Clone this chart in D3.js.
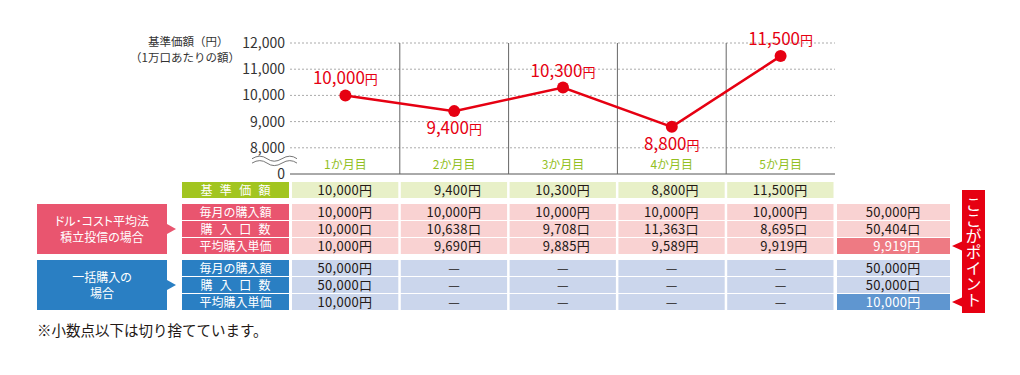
<!DOCTYPE html>
<html lang="ja">
<head>
  <meta charset="UTF-8">
  <title>ドル・コスト平均法</title>
  <script src="https://d3js.org/d3.v7.min.js"></script>
  <style>
    body { margin: 0; background: #fff; }
    svg { display: block; font-family: "Noto Sans CJK JP", sans-serif; }
  </style>
</head>
<body>

  <script>
    ((window, document) => {
      "use strict";


      /**
       * -----------------------------------------------------------------------
       *  Data
       * -----------------------------------------------------------------------
       */

      const months = ["1か月目", "2か月目", "3か月目", "4か月目", "5か月目"];
      const navValues = [10000, 9400, 10300, 8800, 11500];
      const yTicks = [0, 8000, 9000, 10000, 11000, 12000];

      const rowLabels = ["毎月の購入額", "購入口数", "平均購入単価"];
      const rowUnits = ["円", "口", "円"];

      const dcaAmount = [10000, 10000, 10000, 10000, 10000];
      const dcaUnits = [10000, 10638, 9708, 11363, 8695];
      const dcaAvgCost = [10000, 9690, 9885, 9589, 9919];
      const dcaTotals = [50000, 50404, 9919];

      const lumpAmount = [50000, null, null, null, null];
      const lumpUnits = [50000, null, null, null, null];
      const lumpAvgCost = [10000, null, null, null, null];
      const lumpTotals = [50000, 50000, 10000];


      /**
       * -----------------------------------------------------------------------
       *  Setup
       * -----------------------------------------------------------------------
       */

      const RED = "#e60012";
      const INK = "#231815";
      const fmt = d3.format(",");

      const svg = d3.select("body").append("svg")
        .attr("width", 1020).attr("height", 375);

      const x = d3.scaleBand().domain(months).range([291, 835]);
      const bw = x.bandwidth();
      const cx = m => x(m) + bw / 2;
      // broken axis: 0 sits just below 8,000
      const y = d3.scaleLinear().domain([0, 8000, 12000]).range([174, 147.8, 43]);


      /**
       * -----------------------------------------------------------------------
       *  Chart
       * -----------------------------------------------------------------------
       */

      svg.append("text")
        .attr("x", 148).attr("y", 46)
        .attr("font-size", 11.5).attr("fill", "#333")
        .text("基準価額（円）");
      svg.append("text")
        .attr("x", 130).attr("y", 62)
        .attr("font-size", 11.5).attr("fill", "#333")
        .text("（1万口あたりの額）");

      // grid
      svg.append("g").selectAll("line")
        .data(yTicks.filter(d => d > 0))
        .join("line")
          .attr("x1", 290).attr("x2", 835)
          .attr("y1", d => y(d)).attr("y2", d => y(d))
          .attr("stroke", "#aaa")
          .attr("stroke-dasharray", "2,2");

      svg.append("line")
        .attr("x1", 290).attr("x2", 835)
        .attr("y1", y(0)).attr("y2", y(0))
        .attr("stroke", "#555");

      svg.append("g").selectAll("line")
        .data(months.slice(1))
        .join("line")
          .attr("x1", d => x(d)).attr("x2", d => x(d))
          .attr("y1", y(12000)).attr("y2", y(0))
          .attr("stroke", "#666");

      const axis = svg.append("g")
        .attr("transform", "translate(289,0)")
        .call(d3.axisLeft(y).tickValues(yTicks).tickFormat(fmt).tickSize(0).tickPadding(4));
      axis.select(".domain").remove();
      axis.selectAll("text")
        .attr("font-family", "'Noto Sans CJK JP', sans-serif")
        .attr("font-size", 14)
        .attr("fill", "#333");

      // break mark
      const yb = (y(0) + y(8000)) / 2;
      [-2.2, 2.2].forEach(off => {
        svg.append("path")
          .attr("d", `M252,${yb + off} q8,-5 15,0 t15,0 t15,0`)
          .attr("fill", "none")
          .attr("stroke", "#666")
          .attr("stroke-width", 0.9);
      });

      // month labels
      svg.append("g").selectAll("text")
        .data(months)
        .join("text")
          .attr("x", d => cx(d)).attr("y", 169)
          .attr("text-anchor", "middle")
          .attr("font-size", 12)
          .attr("fill", "#93c01f")
          .text(d => d);

      // line + points
      const line = d3.line()
        .x((d, i) => cx(months[i]))
        .y(d => y(d));

      svg.append("path")
        .datum(navValues)
        .attr("d", line)
        .attr("fill", "none")
        .attr("stroke", RED)
        .attr("stroke-width", 2.5);

      svg.append("g").selectAll("circle")
        .data(navValues)
        .join("circle")
          .attr("cx", (d, i) => cx(months[i]))
          .attr("cy", d => y(d))
          .attr("r", 6)
          .attr("fill", RED);

      const labels = svg.append("g").selectAll("text")
        .data(navValues)
        .join("text")
          .attr("x", (d, i) => cx(months[i]))
          .attr("y", (d, i) => y(d) + (i > 0 && d < navValues[i - 1] ? 23 : -11))
          .attr("text-anchor", "middle")
          .attr("fill", RED);
      labels.append("tspan").attr("font-size", 17).text(d => fmt(d));
      labels.append("tspan").attr("font-size", 13).text("円");


      /**
       * -----------------------------------------------------------------------
       *  Table
       * -----------------------------------------------------------------------
       */

      const ROW_H = 16;
      const HEAD_X = 182, HEAD_W = 107;
      const TOTAL_X = 837, TOTAL_W = 113;

      function headCell (rowY, label, fill, spacing) {
        svg.append("rect")
          .attr("x", HEAD_X).attr("y", rowY)
          .attr("width", HEAD_W).attr("height", ROW_H)
          .attr("fill", fill);
        svg.append("text")
          .attr("x", HEAD_X + HEAD_W / 2 + spacing / 2).attr("y", rowY + 12.5)
          .attr("text-anchor", "middle")
          .attr("font-size", 12)
          .attr("letter-spacing", spacing)
          .attr("fill", "#fff")
          .text(label);
      }

      function valueText (g, px, rowY, v, unit, color) {
        g.append("text")
          .attr("x", v == null ? px : px + 27).attr("y", rowY + 12.5)
          .attr("text-anchor", v == null ? "middle" : "end")
          .attr("font-size", 13)
          .attr("letter-spacing", 0.3)
          .attr("fill", color)
          .text(v == null ? "—" : fmt(v) + unit);
      }

      function dataRow (rowY, values, unit, fill) {
        const g = svg.append("g");
        months.forEach((m, i) => {
          g.append("rect")
            .attr("x", x(m) + 1).attr("y", rowY)
            .attr("width", bw - 2.5).attr("height", ROW_H)
            .attr("fill", fill);
          valueText(g, cx(m), rowY, values[i], unit, INK);
        });
      }

      function totalCell (rowY, v, unit, fill, color) {
        const g = svg.append("g");
        g.append("rect")
          .attr("x", TOTAL_X).attr("y", rowY)
          .attr("width", TOTAL_W).attr("height", ROW_H)
          .attr("fill", fill);
        valueText(g, TOTAL_X + TOTAL_W / 2, rowY, v, unit, color);
      }

      // 基準価額 row
      headCell(182, "基準価額", "#a2c520", 7.3);
      dataRow(182, navValues, "円", "#e8f0c8");

      // groups
      const groups = [
        {
          top: 204, color: "#e9556f", light: "#f9d2d2", strong: "#ee7a83",
          title: ["ドル･コスト平均法", "積立投信の場合"],
          rows: [dcaAmount, dcaUnits, dcaAvgCost], totals: dcaTotals
        },
        {
          top: 260, color: "#2a7fc3", light: "#cbd6ec", strong: "#5f96d0",
          title: ["一括購入の", "場合"],
          rows: [lumpAmount, lumpUnits, lumpAvgCost], totals: lumpTotals
        }
      ];

      groups.forEach(grp => {
        const h = ROW_H * 3 + 2;
        svg.append("rect")
          .attr("x", 37).attr("y", grp.top)
          .attr("width", 130).attr("height", h)
          .attr("fill", grp.color);
        const mid = grp.top + h / 2;
        svg.append("path")
          .attr("d", `M167,${mid - 5} L176,${mid} L167,${mid + 5} Z`)
          .attr("fill", grp.color);
        grp.title.forEach((t, k) => {
          svg.append("text")
            .attr("x", 102).attr("y", mid - 3 + k * 16)
            .attr("text-anchor", "middle")
            .attr("font-size", 12)
            .style("font-feature-settings", "'palt'")
            .attr("fill", "#fff")
            .text(t);
        });

        grp.rows.forEach((vals, r) => {
          const rowY = grp.top + r * (ROW_H + 1);
          headCell(rowY, rowLabels[r], grp.color, r === 1 ? 7.3 : 0);
          dataRow(rowY, vals, rowUnits[r], grp.light);
          const last = r === 2;
          totalCell(rowY, grp.totals[r], rowUnits[r],
            last ? grp.strong : grp.light, last ? "#fff" : INK);
        });
      });

      // callout
      const c1 = 204 + 2 * (ROW_H + 1) + ROW_H / 2;
      const c2 = 260 + 2 * (ROW_H + 1) + ROW_H / 2;
      svg.append("rect")
        .attr("x", 962).attr("y", 190)
        .attr("width", 23).attr("height", 123)
        .attr("fill", RED);
      [c1, c2].forEach(cy => {
        svg.append("path")
          .attr("d", `M963,${cy - 5} L952,${cy} L963,${cy + 5} Z`)
          .attr("fill", RED);
      });
      svg.append("text")
        .attr("x", 973.5).attr("y", 251.5)
        .attr("text-anchor", "middle")
        .style("writing-mode", "vertical-rl")
        .attr("font-size", 16)
        .attr("fill", "#fff")
        .text("ここがポイント");

      // note
      svg.append("text")
        .attr("x", 37).attr("y", 336)
        .attr("font-size", 14.5)
        .attr("fill", INK)
        .text("※小数点以下は切り捨てています。");

    })(window, document);
  </script>

</body>
</html>
